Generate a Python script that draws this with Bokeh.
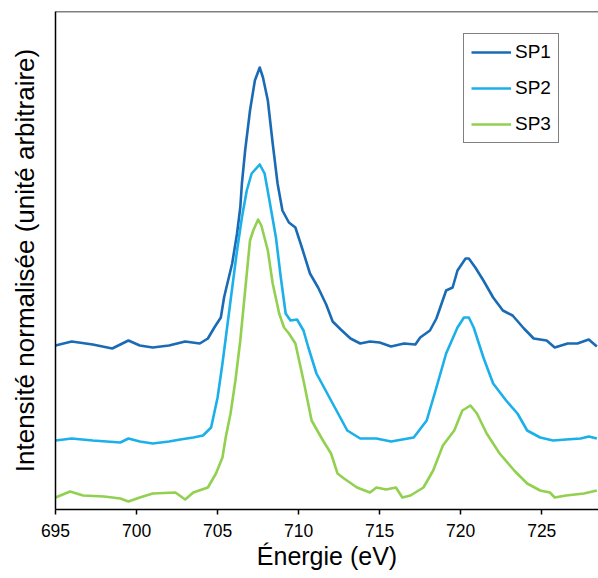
from bokeh.plotting import figure
from bokeh.models import FixedTicker, Span, Legend, LegendItem, Range1d
from bokeh.embed import file_html
from bokeh.resources import INLINE

# Energy ticks (eV)
x_ticks = [695, 700, 705, 710, 715, 720, 725]

# SP1 (dark blue) - energy (eV), normalised intensity (a.u.)
sp1_x = [695.0, 696.0, 697.3, 698.5, 699.5, 700.2, 701.0, 702.0, 703.0, 703.9,
         704.4, 704.8, 705.2, 705.4, 705.5, 705.9, 706.2, 706.4, 706.5, 706.7,
         707.0, 707.3, 707.6, 707.8, 708.1, 708.4, 708.7, 709.0, 709.4, 709.8,
         710.2, 710.7, 711.2, 711.7, 712.1, 712.6, 713.2, 713.8, 714.4, 715.0,
         715.7, 716.5, 717.2, 717.5, 718.1, 718.5, 719.1, 719.5, 719.8, 720.3,
         720.5, 720.9, 721.4, 722.0, 722.6, 723.2, 723.9, 724.5, 725.3, 725.8,
         726.6, 727.2, 727.9, 728.4]
sp1_y = [1.64, 1.68, 1.65, 1.61, 1.69, 1.64, 1.62, 1.64, 1.68, 1.66,
         1.71, 1.82, 1.92, 2.12, 2.19, 2.46, 2.76, 3.02, 3.26, 3.59,
         3.99, 4.29, 4.42, 4.32, 4.09, 3.66, 3.26, 2.99, 2.87, 2.82,
         2.62, 2.36, 2.22, 2.05, 1.88, 1.80, 1.71, 1.66, 1.68, 1.67,
         1.63, 1.66, 1.65, 1.72, 1.79, 1.91, 2.19, 2.22, 2.39, 2.51,
         2.51, 2.42, 2.29, 2.12, 1.99, 1.94, 1.81, 1.71, 1.69, 1.62,
         1.66, 1.66, 1.70, 1.63]

# SP2 (light blue)
sp2_x = [695.0, 696.0, 697.3, 699.0, 699.5, 700.2, 701.0, 702.0, 702.7, 703.5,
         704.1, 704.6, 705.0, 705.3, 705.5, 705.8, 706.2, 706.5, 706.8, 707.1,
         707.6, 707.9, 708.2, 708.6, 708.9, 709.2, 709.5, 709.9, 710.3, 710.6,
         711.1, 712.1, 713.0, 713.8, 714.8, 715.7, 717.1, 717.9, 718.5, 719.1,
         719.8, 720.2, 720.5, 720.8, 721.4, 722.0, 722.8, 723.5, 724.1, 724.9,
         725.7, 726.5, 727.4, 727.9, 728.4]
sp2_y = [0.69, 0.71, 0.69, 0.67, 0.71, 0.68, 0.66, 0.68, 0.70, 0.72,
         0.74, 0.82, 1.12, 1.46, 1.71, 2.09, 2.59, 2.92, 3.19, 3.36,
         3.45, 3.36, 3.09, 2.72, 2.32, 1.96, 1.89, 1.90, 1.79, 1.62,
         1.36, 1.06, 0.79, 0.71, 0.71, 0.68, 0.72, 0.89, 1.22, 1.56,
         1.82, 1.92, 1.92, 1.82, 1.52, 1.26, 1.09, 0.96, 0.79, 0.72,
         0.69, 0.70, 0.71, 0.73, 0.71]

# SP3 (green)
sp3_x = [695.0, 695.9, 696.7, 698.0, 699.0, 699.5, 700.2, 701.0, 702.4, 703.0,
         703.5, 704.4, 704.9, 705.3, 705.5, 705.8, 706.1, 706.4, 706.7, 707.0,
         707.2, 707.5, 707.7, 708.1, 708.4, 708.8, 709.1, 709.4, 709.8, 710.3,
         710.8, 711.5, 712.0, 712.4, 712.8, 713.6, 714.4, 714.8, 715.4, 716.0,
         716.4, 716.9, 717.7, 718.3, 718.9, 719.6, 720.1, 720.6, 721.0, 721.6,
         722.4, 723.3, 724.1, 724.9, 725.5, 725.8, 726.5, 727.6, 728.4]
sp3_y = [0.12, 0.18, 0.14, 0.13, 0.11, 0.08, 0.12, 0.16, 0.17, 0.10,
         0.17, 0.22, 0.36, 0.52, 0.72, 0.96, 1.29, 1.69, 2.19, 2.69,
         2.79, 2.90, 2.84, 2.59, 2.26, 1.96, 1.82, 1.76, 1.66, 1.29,
         0.89, 0.69, 0.56, 0.36, 0.31, 0.22, 0.17, 0.22, 0.20, 0.22,
         0.12, 0.14, 0.22, 0.39, 0.64, 0.79, 0.99, 1.04, 0.96, 0.76,
         0.56, 0.39, 0.26, 0.19, 0.17, 0.12, 0.14, 0.16, 0.19]

series_names = ["SP1", "SP2", "SP3"]
series_colors = ["#1a6bb5", "#1bb0ea", "#92d050"]

FONT = "Liberation Sans"

p = figure(frame_width=543, frame_height=498,
           x_range=Range1d(695, 728.5), y_range=Range1d(0, 4.98),
           output_backend="svg", toolbar_location=None,
           min_border_left=55, min_border_top=11, min_border_right=0,
           min_border_bottom=0)
p.background_fill_color = "white"
p.border_fill_color = "white"
p.outline_line_color = None
p.xgrid.visible = False
p.ygrid.visible = False

renderers = []
for xs, ys, c in zip([sp1_x, sp2_x, sp3_x], [sp1_y, sp2_y, sp3_y], series_colors):
    r = p.line(xs, ys, line_color=c, line_width=2.6, line_join="round")
    renderers.append(r)

# top border of the frame
p.add_layout(Span(location=4.98, dimension="width", line_color="black", line_width=1.5))

xa = p.xaxis[0]
xa.ticker = FixedTicker(ticks=x_ticks)
xa.major_tick_out = 5
xa.major_tick_in = 0
xa.minor_tick_out = 0
xa.minor_tick_in = 0
xa.axis_line_color = "black"
xa.axis_line_width = 1.5
xa.major_tick_line_color = "black"
xa.major_tick_line_width = 1.5
xa.major_label_text_font = FONT
xa.major_label_text_font_size = "17.5px"
xa.major_label_text_color = "black"
xa.major_label_standoff = 9
xa.axis_label = "Énergie (eV)"
xa.axis_label_text_font = FONT
xa.axis_label_text_font_size = "25px"
xa.axis_label_text_font_style = "normal"
xa.axis_label_text_color = "black"
xa.axis_label_standoff = 2

ya = p.yaxis[0]
ya.ticker = FixedTicker(ticks=[])
ya.major_tick_out = 0
ya.major_tick_in = 0
ya.minor_tick_out = 0
ya.minor_tick_in = 0
ya.axis_line_color = "black"
ya.axis_line_width = 1.5
ya.axis_label = "Intensité normalisée (unité arbitraire)"
ya.axis_label_text_font = FONT
ya.axis_label_text_font_size = "26px"
ya.axis_label_text_font_style = "normal"
ya.axis_label_text_color = "black"
ya.axis_label_standoff = 16

legend = Legend(items=[LegendItem(label=n, renderers=[r]) for n, r in zip(series_names, renderers)],
                location=(408, 366))
legend.label_text_font = FONT
legend.label_text_font_size = "19px"
legend.label_text_color = "black"
legend.glyph_width = 40
legend.glyph_height = 20
legend.label_height = 20
legend.label_standoff = 4
legend.spacing = 14
legend.padding = 7
legend.margin = 0
legend.border_line_color = "black"
legend.border_line_width = 1.5
legend.background_fill_color = "white"
legend.background_fill_alpha = 1.0
p.add_layout(legend, "center")

open("out.html", "w").write(file_html(p, INLINE))
